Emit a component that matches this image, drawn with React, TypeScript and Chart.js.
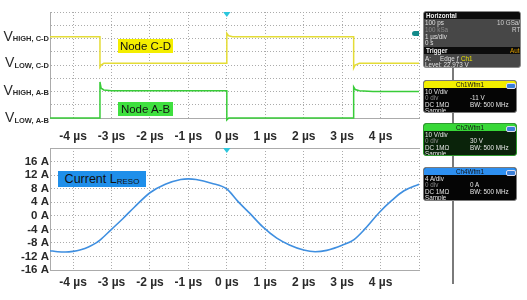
import React, { useEffect, useRef } from "react";
import { Chart, registerables } from "chart.js";
Chart.register(...registerables);

// ---------- data ----------
const timeMin = -4.6;
const timeMax = 5.0;
const timeTicks = [-4, -3, -2, -1, 0, 1, 2, 3, 4, 5];
const divTicks = [0, 1, 2, 3, 4, 5, 6, 7, 8];

// Node C-D (yellow), level in grid divisions
const cdTimes = [-4.6, -3.3, -3.3, -3.27, -3.2, 0, 0, 0.05, 0.15, 3.3, 3.3, 3.34, 3.45, 5.0];
const cdLevels = [6.13, 6.13, 3.85, 4.0, 4.13, 4.13, 6.4, 6.2, 6.13, 6.13, 3.77, 4.0, 4.13, 4.13];

// Node A-B (green)
const abTimes = [-4.6, -3.3, -3.3, -3.27, -3.2, -3.0, 0, 0, 0.05, 3.3, 3.3, 3.34, 3.45, 3.8, 5.0];
const abLevels = [0, 0, 2.72, 2.25, 2.12, 2.06, 2.06, -0.15, 0, 0, 2.34, 2.15, 2.05, 2.0, 2.0];

const levelNames = ["HIGH, C-D", "LOW, C-D", "HIGH, A-B", "LOW, A-B"];
const levelValues = [6.13, 4.13, 2.06, 0];

// Current L_RESO (A)
const currentTimes = [-4.6, -4.4, -4.2, -4.0, -3.8, -3.6, -3.4, -3.3, -3.0, -2.7, -2.4, -2.0, -1.6, -1.2, -1.0, -0.8, -0.4, 0, 0.3, 0.6, 0.93, 1.3, 1.63, 2.0, 2.3, 2.6, 3.0, 3.3, 3.6, 3.96, 4.3, 4.6, 5.0];
const currentAmps = [-10.3, -10.6, -10.7, -10.5, -10.0, -9.2, -8.0, -7.2, -4.0, -0.8, 2.6, 6.8, 9.3, 10.7, 10.9, 10.7, 9.6, 7.9, 4.1, 0.7, -3.2, -6.6, -8.6, -10.1, -10.6, -10.2, -8.7, -7.1, -3.8, 0.9, 4.6, 7.3, 9.3];
const ampTicks = [-16, -12, -8, -4, 0, 4, 8, 12, 16, 20];

// ---------- styles ----------
const FONT = "'Liberation Sans', Arial, sans-serif";
const gridStyle = { color: "#ababab", lineWidth: 1, drawTicks: false };
const borderStyle = { color: "#ababab", dash: [1, 2], width: 1 };
const tickColor = "#2a2a2a";

const timeLabel = (v: number) => (v > 4.5 ? "" : `${v} µs`);

const triggerPlugin = {
  id: "trigger",
  afterDraw(chart: any) {
    const ctx = chart.ctx;
    const x = chart.scales.x.getPixelForValue(0);
    const top = chart.chartArea.top;
    ctx.save();
    ctx.fillStyle = "#2cc6dc";
    ctx.beginPath();
    ctx.moveTo(x - 3.7, top);
    ctx.lineTo(x + 3.7, top);
    ctx.lineTo(x, top + 5);
    ctx.closePath();
    ctx.fill();
    ctx.restore();
  },
};

const levelLabelPlugin = {
  id: "levelLabels",
  afterDraw(chart: any) {
    const ctx = chart.ctx;
    const y = chart.scales.y;
    ctx.save();
    ctx.fillStyle = "#2a2a2a";
    ctx.textBaseline = "alphabetic";
    levelNames.forEach((name, i) => {
      const py = y.getPixelForValue(levelValues[i]);
      ctx.font = `14px ${FONT}`;
      const wV = ctx.measureText("V").width;
      ctx.font = `bold 7.5px ${FONT}`;
      const wS = ctx.measureText(name).width;
      const x0 = 49 - wV - wS;
      ctx.font = `14px ${FONT}`;
      ctx.fillText("V", x0, py + 4);
      ctx.font = `bold 7.5px ${FONT}`;
      ctx.fillText(name, x0 + wV, py + 4.5);
    });
    ctx.restore();
  },
};

function TopChart() {
  const ref = useRef<HTMLCanvasElement>(null);
  useEffect(() => {
    const chart = new Chart(ref.current!, {
      type: "line",
      data: {
        datasets: [
          {
            data: cdTimes.map((t, i) => ({ x: t, y: cdLevels[i] })),
            borderColor: "#e4dc36",
            borderWidth: 1.5,
            pointRadius: 0,
            tension: 0,
            clip: 6,
          } as any,
          {
            data: abTimes.map((t, i) => ({ x: t, y: abLevels[i] })),
            borderColor: "#38cc38",
            borderWidth: 1.5,
            pointRadius: 0,
            tension: 0,
            clip: 6,
          } as any,
        ],
      },
      options: {
        responsive: false,
        maintainAspectRatio: false,
        animation: false,
        layout: { padding: { left: 0, top: 12, right: 11, bottom: 7 } },
        plugins: { legend: { display: false }, tooltip: { enabled: false } },
        scales: {
          x: {
            type: "linear",
            min: timeMin,
            max: timeMax,
            afterBuildTicks: (s: any) => {
              s.ticks = timeTicks.map((v) => ({ value: v }));
            },
            ticks: { display: false },
            grid: gridStyle,
            border: borderStyle,
            afterFit: (s: any) => {
              s.height = 0;
            },
          },
          y: {
            type: "linear",
            min: 0,
            max: 8,
            afterBuildTicks: (s: any) => {
              s.ticks = divTicks.map((v) => ({ value: v }));
            },
            ticks: { display: false },
            grid: gridStyle,
            border: borderStyle,
            afterFit: (s: any) => {
              s.width = 50;
            },
          },
        } as any,
      },
      plugins: [triggerPlugin, levelLabelPlugin],
    });
    return () => chart.destroy();
  }, []);
  return (
    <canvas
      ref={ref}
      width={430}
      height={125}
      style={{ position: "absolute", left: 0, top: 0, width: 430, height: 125 }}
    />
  );
}

function BottomChart() {
  const ref = useRef<HTMLCanvasElement>(null);
  useEffect(() => {
    const tickFont = { family: FONT, size: 12, weight: "bold" as const };
    const chart = new Chart(ref.current!, {
      type: "line",
      data: {
        datasets: [
          {
            data: currentTimes.map((t, i) => ({ x: t, y: currentAmps[i] })),
            borderColor: "#3f8fe0",
            borderWidth: 1.6,
            pointRadius: 0,
            tension: 0.35,
            cubicInterpolationMode: "monotone",
          } as any,
        ],
      },
      options: {
        responsive: false,
        maintainAspectRatio: false,
        animation: false,
        layout: { padding: { left: 0, top: 0, right: 11, bottom: 0 } },
        plugins: { legend: { display: false }, tooltip: { enabled: false } },
        scales: {
          x: {
            type: "linear",
            position: "bottom",
            min: timeMin,
            max: timeMax,
            afterBuildTicks: (s: any) => {
              s.ticks = timeTicks.map((v) => ({ value: v }));
            },
            ticks: {
              callback: (v: any) => timeLabel(Number(v)),
              font: tickFont,
              color: tickColor,
              padding: 5,
              maxRotation: 0,
              autoSkip: false,
            },
            grid: gridStyle,
            border: borderStyle,
            afterFit: (s: any) => {
              s.height = 30;
            },
          },
          x2: {
            type: "linear",
            position: "top",
            min: timeMin,
            max: timeMax,
            afterBuildTicks: (s: any) => {
              s.ticks = timeTicks.map((v) => ({ value: v }));
            },
            ticks: {
              callback: (v: any) => timeLabel(Number(v)),
              font: tickFont,
              color: tickColor,
              padding: 4,
              maxRotation: 0,
              autoSkip: false,
            },
            grid: { display: false, drawTicks: false },
            border: borderStyle,
            afterFit: (s: any) => {
              s.height = 20;
            },
          },
          y: {
            type: "linear",
            min: -16,
            max: 20,
            afterBuildTicks: (s: any) => {
              s.ticks = ampTicks.map((v) => ({ value: v }));
            },
            ticks: {
              callback: (v: any) => (Number(v) > 18 ? "" : `${v} A`),
              font: { family: FONT, size: 11.5, weight: "bold" as const },
              color: tickColor,
              padding: 1,
              autoSkip: false,
            },
            grid: gridStyle,
            border: borderStyle,
            afterFit: (s: any) => {
              s.width = 50;
            },
          },
        } as any,
      },
      plugins: [triggerPlugin],
    });
    return () => chart.destroy();
  }, []);
  return (
    <canvas
      ref={ref}
      width={430}
      height={172}
      style={{ position: "absolute", left: 0, top: 128, width: 430, height: 172 }}
    />
  );
}

// ---------- side panel ----------
function Txt(props: { x: number; y: number; c?: string; b?: boolean; children: any; center?: boolean; w?: number }) {
  return (
    <div
      style={{
        position: "absolute",
        left: props.x,
        top: props.y,
        width: props.w,
        textAlign: props.center ? "center" : "left",
        fontSize: 6.3,
        lineHeight: "7px",
        fontFamily: FONT,
        color: props.c || "#e0e0e0",
        fontWeight: props.b ? "bold" : "normal",
        whiteSpace: "nowrap",
      }}
    >
      {props.children}
    </div>
  );
}

function ChBox(props: {
  top: number;
  height: number;
  title: string;
  headerBg: string;
  bodyBg: string;
  border: string;
  lines: [string, string][];
  text: string;
}) {
  const tops = [6.5, 13.2, 19.8, 26];
  return (
    <div
      style={{
        position: "absolute",
        left: 423,
        top: props.top,
        width: 94,
        height: props.height,
        background: props.bodyBg,
        border: `1px solid ${props.border}`,
        borderRadius: 3,
        overflow: "hidden",
        boxSizing: "border-box",
      }}
    >
      <div style={{ position: "absolute", left: 0, top: 0, width: "100%", height: 7, background: props.headerBg }} />
      <Txt x={0} y={0} w={92} center c="#111">
        {props.title}
      </Txt>
      <div
        style={{
          position: "absolute",
          left: 82,
          top: 1.5,
          width: 8,
          height: 4,
          borderRadius: 2,
          background: "#3a7fd8",
          border: "0.5px solid #dde",
        }}
      />
      {props.lines.map((l, i) => (
        <React.Fragment key={i}>
          <Txt x={1} y={tops[i]} c={i === 1 ? "#8d8d8d" : props.text}>
            {l[0]}
          </Txt>
          {l[1] ? (
            <Txt x={46} y={tops[i]} c={props.text}>
              {l[1]}
            </Txt>
          ) : null}
        </React.Fragment>
      ))}
    </div>
  );
}

function SidePanel() {
  const conn = (top: number, h: number) => (
    <div style={{ position: "absolute", left: 452, top, width: 2, height: h, background: "#7a7a7a" }} />
  );
  return (
    <>
      {conn(68, 12)}
      {conn(113, 10)}
      {conn(156, 11)}
      {conn(201, 83)}
      <div
        style={{
          position: "absolute",
          left: 423,
          top: 11,
          width: 98,
          height: 57,
          background: "#474747",
          border: "1px solid #8a8a8a",
          borderRadius: 3,
          overflow: "hidden",
          boxSizing: "border-box",
        }}
      >
        <div style={{ position: "absolute", left: 0, top: 0, width: "100%", height: 7, background: "#0c0c0c" }} />
        <Txt x={2} y={0} c="#f0f0f0" b>
          Horizontal
        </Txt>
        <Txt x={1} y={7.2}>100 ps</Txt>
        <Txt x={73} y={7.2} c="#cfcfcf">10 GSa/s</Txt>
        <Txt x={1} y={13.8} c="#8a8a8a">100 kSa</Txt>
        <Txt x={88} y={13.8} c="#cfcfcf">RT</Txt>
        <Txt x={1} y={20.5}>1 µs/div</Txt>
        <Txt x={1} y={27.2}>0 s</Txt>
        <div style={{ position: "absolute", left: 0, top: 34.7, width: "100%", height: 7, background: "#0c0c0c" }} />
        <Txt x={2} y={34.7} c="#f0f0f0" b>
          Trigger
        </Txt>
        <Txt x={86} y={34.7} c="#e0a000">Auto</Txt>
        <Txt x={1} y={42.5}>A:</Txt>
        <Txt x={16} y={42.5}>Edge</Txt>
        <Txt x={32} y={42.5}>ƒ</Txt>
        <Txt x={37} y={42.5} c="#e8e000">Ch1</Txt>
        <Txt x={1} y={48.8}>Level: 22.973 V</Txt>
      </div>
      <ChBox
        top={80}
        height={33}
        title="Ch1Wfm1"
        headerBg="#f2ee00"
        bodyBg="#050505"
        border="#7a7a7a"
        text="#e6e6e6"
        lines={[
          ["10 V/div", ""],
          ["0 div", "-11 V"],
          ["DC 1MΩ", "BW: 500 MHz"],
          ["Sample", ""],
        ]}
      />
      <ChBox
        top={123}
        height={33}
        title="Ch2Wfm1"
        headerBg="#38d838"
        bodyBg="#0a230a"
        border="#2f9a2f"
        text="#e6e6e6"
        lines={[
          ["10 V/div", ""],
          ["0 div", "30 V"],
          ["DC 1MΩ", "BW: 500 MHz"],
          ["Sample", ""],
        ]}
      />
      <ChBox
        top={167}
        height={34}
        title="Ch4Wfm1"
        headerBg="#2d8ff0"
        bodyBg="#050505"
        border="#7a7a7a"
        text="#e6e6e6"
        lines={[
          ["4 A/div", ""],
          ["0 div", "0 A"],
          ["DC 1MΩ", "BW: 500 MHz"],
          ["Sample", ""],
        ]}
      />
    </>
  );
}

export default function App() {
  useEffect(() => {
    document.body.style.margin = "0";
  }, []);
  const boxText = { fontFamily: FONT, color: "#111", whiteSpace: "nowrap" as const };
  return (
    <div style={{ position: "relative", width: 527, height: 300, background: "#fff", overflow: "hidden" }}>
      <TopChart />
      <BottomChart />
      {/* reference level marker */}
      <div
        style={{
          position: "absolute",
          left: 412,
          top: 31,
          width: 7,
          height: 4.5,
          background: "#138a8a",
          borderRadius: "2.5px 0 0 2.5px",
        }}
      />
      {/* annotations */}
      <div
        style={{
          position: "absolute",
          left: 118,
          top: 39,
          width: 55,
          height: 14,
          background: "#f4ee00",
          fontSize: 11.5,
          lineHeight: "14px",
          textAlign: "center",
          ...boxText,
        }}
      >
        Node C-D
      </div>
      <div
        style={{
          position: "absolute",
          left: 118,
          top: 102,
          width: 55,
          height: 14,
          background: "#3fe03f",
          fontSize: 11.5,
          lineHeight: "14px",
          textAlign: "center",
          ...boxText,
        }}
      >
        Node A-B
      </div>
      <div
        style={{
          position: "absolute",
          left: 58,
          top: 171,
          width: 88,
          height: 16,
          background: "#1f8fea",
          fontSize: 12.5,
          lineHeight: "16px",
          textAlign: "center",
          ...boxText,
        }}
      >
        Current L<span style={{ fontSize: 8, verticalAlign: "-1px" }}>RESO</span>
      </div>
      <SidePanel />
    </div>
  );
}
